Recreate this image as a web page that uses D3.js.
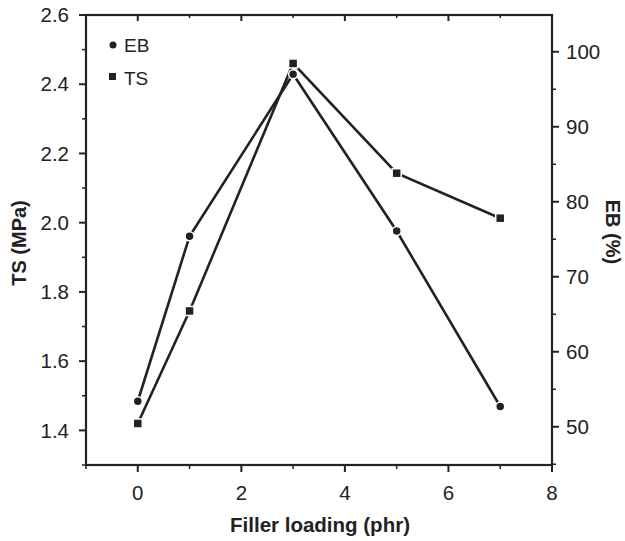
<!DOCTYPE html>
<html>
<head>
<meta charset="utf-8">
<script src="https://cdn.jsdelivr.net/npm/d3@7"></script>
<style>
  body { margin: 0; background: #fff; }
  text { font-family: "Liberation Sans", Arial, sans-serif; fill: #222; }
</style>
</head>
<body>
<svg id="chart" width="625" height="541"></svg>
<script>
// filler loading (phr)
const loading = [0, 1, 3, 5, 7];
// tensile strength (MPa), left axis
const tsValues = [1.42, 1.745, 2.46, 2.143, 2.013];
// elongation at break (%), right axis
const ebValues = [53.4, 75.4, 97.0, 76.1, 52.7];

const xTicks = [0, 2, 4, 6, 8];
const tsTicks = [1.4, 1.6, 1.8, 2.0, 2.2, 2.4, 2.6];
const ebTicks = [50, 60, 70, 80, 90, 100];

const svg = d3.select('#chart');
const ink = '#222';
const tickFont = '20.5px';

const frame = {left: 86, right: 552, top: 15, bottom: 465};

const x = d3.scaleLinear().domain([-1, 8]).range([frame.left, frame.right]);
const yTS = d3.scaleLinear().domain([1.3, 2.6]).range([frame.bottom, frame.top]);
const yEB = d3.scaleLinear().domain([44.9, 104.9]).range([frame.bottom, frame.top]);

// minor ticks sit between the labelled ones
const xMinor = d3.range(-1, 8.01, 1).filter(v => !xTicks.includes(v));
const tsMinor = d3.range(1.3, 2.61, 0.1).map(v => +v.toFixed(1)).filter(v => !tsTicks.includes(v));
const ebMinor = d3.range(45, 105, 5).filter(v => !ebTicks.includes(v));

// bottom axis (outward ticks)
const gx = svg.append('g').attr('transform', `translate(0,${frame.bottom})`);
gx.selectAll('.major').data(xTicks).enter().append('line')
    .attr('x1', d => x(d)).attr('x2', d => x(d))
    .attr('y1', 0).attr('y2', 7)
    .attr('stroke', ink).attr('stroke-width', 2);
gx.selectAll('.minor').data(xMinor).enter().append('line')
    .attr('x1', d => x(d)).attr('x2', d => x(d))
    .attr('y1', 0).attr('y2', 4)
    .attr('stroke', ink).attr('stroke-width', 1.5);
gx.selectAll('text').data(xTicks).enter().append('text')
    .attr('x', d => x(d)).attr('y', 35)
    .attr('text-anchor', 'middle')
    .style('font-size', tickFont)
    .text(d => d);

// top frame ticks (inward)
const gt = svg.append('g').attr('transform', `translate(0,${frame.top})`);
gt.selectAll('.major').data(xTicks).enter().append('line')
    .attr('x1', d => x(d)).attr('x2', d => x(d))
    .attr('y1', 0).attr('y2', 6)
    .attr('stroke', ink).attr('stroke-width', 2);
gt.selectAll('.minor').data(xMinor).enter().append('line')
    .attr('x1', d => x(d)).attr('x2', d => x(d))
    .attr('y1', 0).attr('y2', 3)
    .attr('stroke', ink).attr('stroke-width', 1.5);

// left axis
const gl = svg.append('g').attr('transform', `translate(${frame.left},0)`);
gl.selectAll('.major').data(tsTicks).enter().append('line')
    .attr('x1', 0).attr('x2', -7)
    .attr('y1', d => yTS(d)).attr('y2', d => yTS(d))
    .attr('stroke', ink).attr('stroke-width', 2);
gl.selectAll('.minor').data(tsMinor).enter().append('line')
    .attr('x1', 0).attr('x2', -4)
    .attr('y1', d => yTS(d)).attr('y2', d => yTS(d))
    .attr('stroke', ink).attr('stroke-width', 1.5);
gl.selectAll('text').data(tsTicks).enter().append('text')
    .attr('x', -17).attr('y', d => yTS(d)).attr('dy', '0.35em')
    .attr('text-anchor', 'end')
    .style('font-size', tickFont)
    .text(d => d3.format('.1f')(d));

// right axis
const gr = svg.append('g').attr('transform', `translate(${frame.right},0)`);
gr.selectAll('.major').data(ebTicks).enter().append('line')
    .attr('x1', 0).attr('x2', 7)
    .attr('y1', d => yEB(d)).attr('y2', d => yEB(d))
    .attr('stroke', ink).attr('stroke-width', 2);
gr.selectAll('.minor').data(ebMinor).enter().append('line')
    .attr('x1', 0).attr('x2', 4)
    .attr('y1', d => yEB(d)).attr('y2', d => yEB(d))
    .attr('stroke', ink).attr('stroke-width', 1.5);
gr.selectAll('text').data(ebTicks).enter().append('text')
    .attr('x', 14).attr('y', d => yEB(d)).attr('dy', '0.35em')
    .style('font-size', tickFont)
    .text(d => d);

// frame
svg.append('rect')
    .attr('x', frame.left).attr('y', frame.top)
    .attr('width', frame.right - frame.left).attr('height', frame.bottom - frame.top)
    .attr('fill', 'none').attr('stroke', ink).attr('stroke-width', 2.2);

// axis titles
svg.append('text')
    .attr('x', 320).attr('y', 532)
    .attr('text-anchor', 'middle')
    .style('font-size', '20.5px').style('font-weight', 'bold')
    .text('Filler loading (phr)');
svg.append('text')
    .attr('transform', 'translate(26,243) rotate(-90)')
    .attr('text-anchor', 'middle')
    .style('font-size', '20px').style('font-weight', 'bold')
    .text('TS (MPa)');
svg.append('text')
    .attr('transform', 'translate(606,232) rotate(90)')
    .attr('text-anchor', 'middle')
    .style('font-size', '20px').style('font-weight', 'bold')
    .text('EB (%)');

// series
const tsData = loading.map((d, i) => ({x: d, y: tsValues[i]}));
const ebData = loading.map((d, i) => ({x: d, y: ebValues[i]}));

const lineTS = d3.line().x(d => x(d.x)).y(d => yTS(d.y));
const lineEB = d3.line().x(d => x(d.x)).y(d => yEB(d.y));

svg.append('path').datum(ebData)
    .attr('d', lineEB)
    .attr('fill', 'none').attr('stroke', ink).attr('stroke-width', 2.6);
svg.append('path').datum(tsData)
    .attr('d', lineTS)
    .attr('fill', 'none').attr('stroke', ink).attr('stroke-width', 2.6);

svg.selectAll('.eb').data(ebData).enter().append('circle')
    .attr('class', 'eb')
    .attr('cx', d => x(d.x)).attr('cy', d => yEB(d.y))
    .attr('r', 4.5)
    .attr('fill', ink).attr('stroke', '#fff').attr('stroke-width', 1.5);
svg.selectAll('.ts').data(tsData).enter().append('rect')
    .attr('class', 'ts')
    .attr('x', d => x(d.x) - 4.5).attr('y', d => yTS(d.y) - 4.5)
    .attr('width', 9).attr('height', 9)
    .attr('fill', ink).attr('stroke', '#fff').attr('stroke-width', 1.5);

// legend
const legend = svg.append('g');
legend.append('circle')
    .attr('cx', 113).attr('cy', 45).attr('r', 3.5).attr('fill', ink);
legend.append('text')
    .attr('x', 124).attr('y', 45).attr('dy', '0.35em')
    .style('font-size', '19px').text('EB');
legend.append('rect')
    .attr('x', 109).attr('y', 73).attr('width', 7).attr('height', 7).attr('fill', ink);
legend.append('text')
    .attr('x', 124).attr('y', 78).attr('dy', '0.35em')
    .style('font-size', '19px').text('TS');
</script>
</body>
</html>
